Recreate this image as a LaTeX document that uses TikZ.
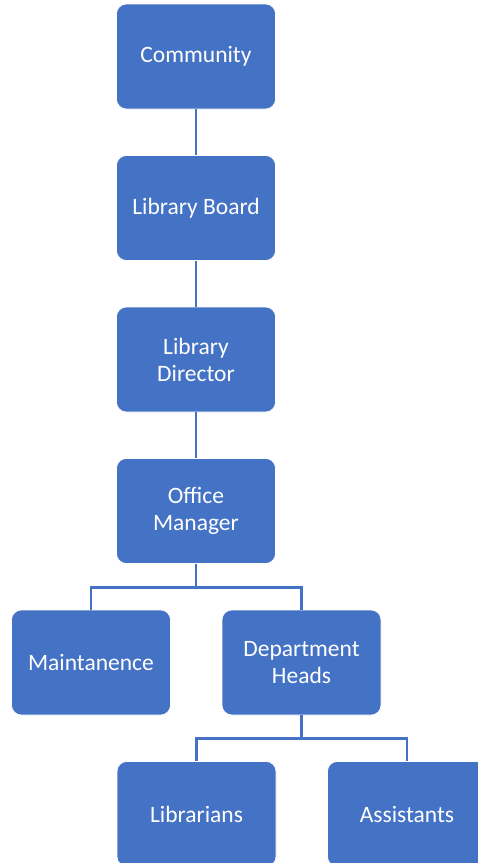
\documentclass[tikz,border=0pt]{standalone}
\usepackage{fontspec}
\setmainfont{Carlito}
\usepackage{tikz}
\usetikzlibrary{positioning}
\definecolor{orgblue}{HTML}{4472C4}
\tikzset{
x=1pt, y=1pt, % one unit per pixel of the chart
node distance=151.5pt, % distance between the centres of two levels
every node/.style={font=\fontsize{23.5}{27}\selectfont},
orgbox/.style={rectangle, rounded corners=10pt, fill=orgblue, draw=white, line width=0.6pt,
  text=white, align=center, minimum width=159pt, minimum height=105pt}, % the blue boxes
link/.style={draw=orgblue, line width=2.6pt}, % the connecting lines
}

\begin{document}
\begin{tikzpicture}
                \useasboundingbox (0,0) rectangle (478,-863);
                \clip (0,0) rectangle (478,-863);

                \node[orgbox] (community) at (196,-56.5) {Community};
                \node[orgbox, below of=community] (board) {Library Board};
                \node[orgbox, below of=board] (director) {Library\\Director};
                \node[orgbox, below of=director] (office) {Office\\Manager};

                \node[orgbox, below of=office, xshift=-105pt] (maint) {Maintanence};
                \node[orgbox, below of=office, xshift=105.5pt] (dept) {Department\\Heads};

                \node[orgbox, below of=dept, xshift=-105pt] (librarians) {Librarians};
                \node[orgbox, below of=dept, xshift=105.5pt] (assistants) {Assistants};
                % lines between the levels
                \path[link]
                    (community) -- (board)
                    (board) -- (director)
                    (director) -- (office)
                    %
                    (office.south) -- ++(0,-23.5) -| (maint.north)
                    (office.south) -- ++(0,-23.5) -| (dept.north)
                    (dept.south) -- ++(0,-23) -| (librarians.north)
                    (dept.south) -- ++(0,-23) -| (assistants.north);
                \end{tikzpicture}
\end{document}
